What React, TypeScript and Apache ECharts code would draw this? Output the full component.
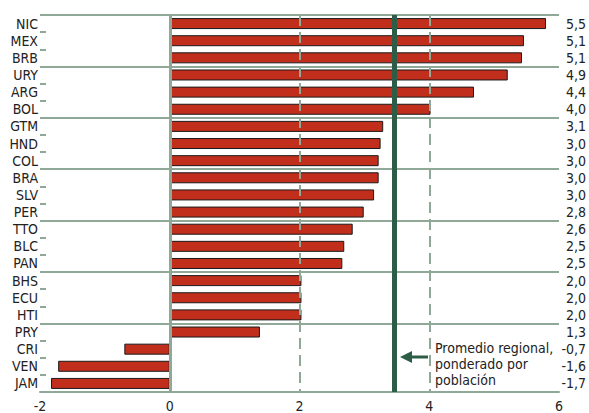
import React, { useEffect, useRef } from "react";
import * as echarts from "echarts";

const countries = ["NIC", "MEX", "BRB", "URY", "ARG", "BOL", "GTM", "HND", "COL", "BRA", "SLV", "PER", "TTO", "BLC", "PAN", "BHS", "ECU", "HTI", "PRY", "CRI", "VEN", "JAM"];
const barValues = [5.8, 5.46, 5.43, 5.21, 4.69, 4.02, 3.29, 3.25, 3.22, 3.22, 3.15, 2.99, 2.82, 2.69, 2.66, 2.03, 2.03, 2.03, 1.39, -0.7, -1.72, -1.83];
const valueLabels = ["5,5", "5,1", "5,1", "4,9", "4,4", "4,0", "3,1", "3,0", "3,0", "3,0", "3,0", "2,8", "2,6", "2,5", "2,5", "2,0", "2,0", "2,0", "1,3", "-0,7", "-1,6", "-1,7"];
const xTicks = [-2, 0, 2, 4, 6];
const regionalAverage = 3.46;
const annotationLines = ["Promedio regional,", "ponderado por", "población"];

const FONT = "'DejaVu Sans Condensed', 'Liberation Sans Narrow', sans-serif";
const GRID = "#8fa898";
const DARK = "#2e5d47";
const RED = "#c22e1c";
const TEXT = "#222222";

export default function App() {
  const ref = useRef<HTMLDivElement>(null);
  useEffect(() => {
    if (!ref.current) return;
    const chart = echarts.init(ref.current, null, { renderer: "svg" });
    const option: any = {
      animation: false,
      backgroundColor: "#ffffff",
      textStyle: { fontFamily: FONT },
      grid: { left: 40, right: 23, top: 15, bottom: 21, containLabel: false },
      xAxis: {
        type: "value",
        min: xTicks[0],
        max: xTicks[xTicks.length - 1],
        interval: 2,
        position: "bottom",
        axisLine: { show: true, onZero: false, lineStyle: { color: GRID, width: 2 } },
        axisTick: { show: false },
        splitLine: { show: false },
        axisLabel: { color: TEXT, fontSize: 14, fontFamily: FONT, margin: 7 },
      },
      yAxis: [
        {
          type: "category",
          data: countries,
          inverse: true,
          position: "left",
          axisLine: { show: false, onZero: false },
          axisTick: { show: true, inside: true, length: 6, lineStyle: { color: GRID, width: 2 } },
          axisLabel: { color: TEXT, fontSize: 14, fontFamily: FONT, margin: 2, interval: 0 },
          splitLine: {
            show: true,
            interval: (index: number) => index % 3 === 0 && index <= 18,
            lineStyle: { color: GRID, width: 2 },
          },
        },
        {
          type: "category",
          data: valueLabels,
          inverse: true,
          position: "right",
          axisLine: { show: false, onZero: false },
          axisTick: { show: false },
          splitLine: { show: false },
          axisLabel: { color: TEXT, fontSize: 14, fontFamily: FONT, margin: 27, align: "right", interval: 0 },
        },
      ],
      series: [
        {
          type: "bar",
          data: barValues,
          yAxisIndex: 0,
          barWidth: 11,
          itemStyle: { color: RED, borderColor: "#1a1a1a", borderWidth: 1 },
          markLine: {
            silent: true,
            symbol: "none",
            label: { show: false },
            data: [
              { xAxis: 0, lineStyle: { color: GRID, width: 3, type: "solid" } },
              { xAxis: 2, lineStyle: { color: GRID, width: 2, type: [11, 6] } },
              { xAxis: 4, lineStyle: { color: GRID, width: 2, type: [11, 6] } },
              { xAxis: regionalAverage, lineStyle: { color: DARK, width: 5, type: "solid" } },
            ],
          },
        },
      ],
      graphic: [
        { type: "line", shape: { x1: 428, y1: 357, x2: 410, y2: 357 }, style: { stroke: DARK, lineWidth: 3 } },
        { type: "polygon", shape: { points: [[400, 357], [412, 351], [412, 363]] }, style: { fill: DARK } },
        ...annotationLines.map((t, i) => ({
          type: "text",
          x: 435,
          y: 348 + i * 16,
          style: { text: t, fill: TEXT, font: `14px ${FONT}`, textVerticalAlign: "middle", textAlign: "left" },
        })),
      ],
    };
    chart.setOption(option);
    return () => chart.dispose();
  }, []);
  return <div ref={ref} style={{ position: "fixed", left: 0, top: 0, width: 589, height: 413 }} />;
}
